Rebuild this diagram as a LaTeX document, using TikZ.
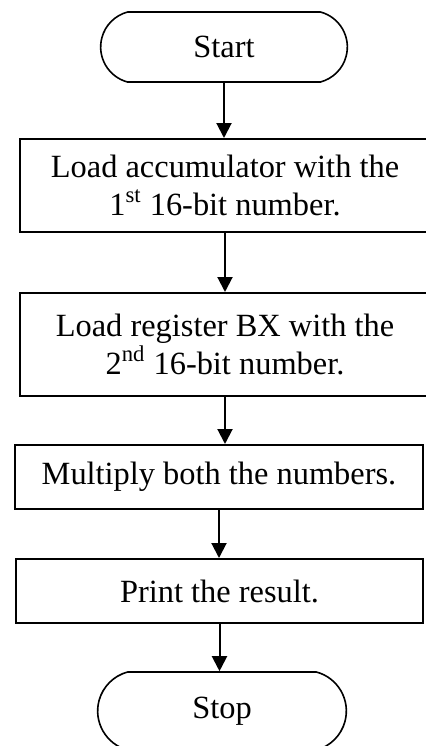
\documentclass[tikz,border=0pt]{standalone}
\usepackage{fontspec}
\setmainfont{Liberation Serif}
\usetikzlibrary{arrows.meta,shapes,positioning}
\tikzstyle{term}=[draw=black, rounded rectangle, rounded rectangle arc length=150, line width=0.8pt, minimum width=130pt, minimum height=35pt, font=\fontsize{16.2}{19}\selectfont]
\tikzstyle{proc}=[draw=black, rectangle, line width=1pt, align=center, inner sep=0pt, font=\fontsize{16.2}{19}\selectfont]
\tikzstyle{l1}=[line width=1pt, -{Triangle[length=7.5pt,width=7.5pt]}]

\begin{document}
\begin{tikzpicture}[x=0.5pt,y=-0.5pt]
    \useasboundingbox (0,0) rectangle (425,746);
    \node (start) [term] at (224,47) {Start};
    \node (load1) [proc, minimum width=205pt, minimum height=46.5pt] at (225,185.5) {Load accumulator with the\\1\textsuperscript{st} 16-bit number.};
    \node (load2) [proc, minimum width=205pt, minimum height=51.5pt] at (225,344.5) {Load register BX with the\\2\textsuperscript{nd} 16-bit number.};
    \node (mul) [proc, minimum width=204pt, minimum height=32pt] at (219,477) {Multiply both the numbers.};
    \node (print) [proc, minimum width=203.5pt, minimum height=32pt] at (219.5,591) {Print the result.};
    \node (stop) [term, minimum width=131pt, minimum height=39pt] at (222,711) {Stop};
    \draw[l1] (start.south) -- (start.south |- load1.north);
    \draw[l1] (load1.south) -- (load1.south |- load2.north);
    \draw[l1] (load2.south) -- (load2.south |- mul.north);
    \draw[l1] (mul.south) -- (mul.south |- print.north);
    \draw[l1] (print.south) -- (print.south |- stop.north);
\end{tikzpicture}
\end{document}
